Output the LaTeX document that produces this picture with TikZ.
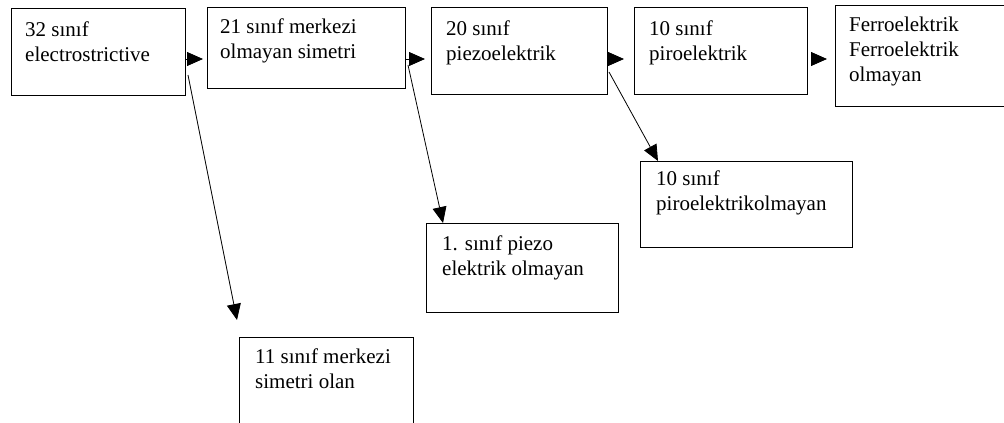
\documentclass[tikz,border=0pt]{standalone}
\usepackage{fontspec}
\setmainfont{Liberation Serif}
\usetikzlibrary{arrows.meta}

\begin{document}
\begin{tikzpicture}[x=1pt,y=-1pt,
    kutu/.style={draw, line width=1pt, inner sep=0pt, anchor=north west},
    yazi/.style={anchor=north west, inner sep=0pt, align=left, font=\fontsize{21}{25}\selectfont},
    ok/.style={-{Triangle[length=16pt,width=14pt]}, line width=0.8pt}]
    \useasboundingbox (0,0) rectangle (1004,423);
    \clip (0,0) rectangle (1004,423);

    % Boxes
    \node[kutu, minimum width=174pt, minimum height=87pt] (b32) at (11,8) {};
    \node[kutu, minimum width=198pt, minimum height=81pt] (b21) at (207,7) {};
    \node[kutu, minimum width=176pt, minimum height=87pt] (b20) at (431,7) {};
    \node[kutu, minimum width=173pt, minimum height=87pt] (b10) at (634,7) {};
    \node[kutu, minimum width=180pt, minimum height=101pt] (bfe) at (835,5) {};
    \node[kutu, minimum width=192pt, minimum height=89pt] (b1pz) at (426,223) {};
    \node[kutu, minimum width=212pt, minimum height=86pt] (b10po) at (640,161) {};
    \node[kutu, minimum width=174pt, minimum height=95pt] (b11) at (239,337) {};

    % Texts
    \node[yazi] (t32) at ([xshift=14pt,yshift=-14pt]b32.north west) {32 sınıf\\electrostrictive};
    \node[yazi] (t21) at ([xshift=13pt,yshift=-12pt]b21.north west) {21 sınıf merkezi\\olmayan simetri};
    \node[yazi] (t20) at ([xshift=15pt,yshift=-14pt]b20.north west) {20 sınıf\\piezoelektrik};
    \node[yazi] (t10) at ([xshift=15pt,yshift=-14pt]b10.north west) {10 sınıf\\piroelektrik};
    \node[yazi] (tfe) at ([xshift=14pt,yshift=-12pt]bfe.north west) {Ferroelektrik\\Ferroelektrik\\olmayan};
    \node[yazi] (t1pz) at ([xshift=16pt,yshift=-13pt]b1pz.north west) {1. sınıf piezo\\elektrik olmayan};
    \node[yazi] (t10po) at ([xshift=16pt,yshift=-10pt]b10po.north west) {10 sınıf\\piroelektrikolmayan};
    \node[yazi] (t11) at ([xshift=16pt,yshift=-12pt]b11.north west) {11 sınıf merkezi\\simetri olan};

    % Arrows along the top row
    \draw[ok, shorten >=4pt] (b32.east |- 0,59) -- (b21.west |- 0,59);
    \draw[ok, shorten >=6pt] (b21.east |- 0,59) -- (b20.west |- 0,59);
    \draw[ok, shorten >=10pt] (b20.east |- 0,59) -- (b10.west |- 0,59);
    \draw[ok, shorten <=5pt, shorten >=8pt] (b10.east |- 0,59) -- (bfe.west |- 0,59);

    % Arrows going down
    \draw[ok] ([xshift=2pt,yshift=-23pt]b32.east) -- ([xshift=-2pt,yshift=17pt]b11.north west);
    \draw[ok] ([xshift=2pt,yshift=-17pt]b21.east) -- ([xshift=17pt]b1pz.north west);
    \draw[ok] ([xshift=1pt,yshift=-21pt]b20.east) -- ([xshift=18pt]b10po.north west);
\end{tikzpicture}
\end{document}
